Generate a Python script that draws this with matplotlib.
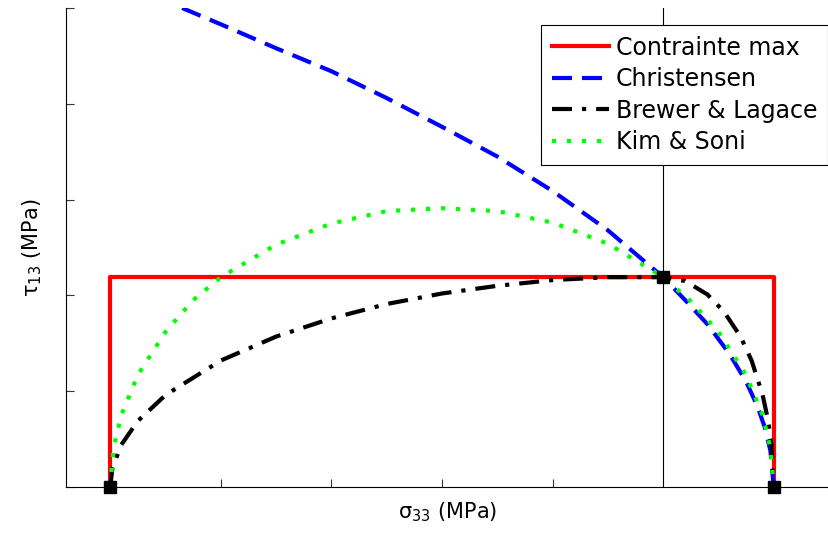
import matplotlib
matplotlib.use('Agg')
import matplotlib.pyplot as plt

# Contrainte max (rectangle)
s_max = [-5.0, -5.0, 1.0, 1.0]
t_max = [0.0, 2.19, 2.19, 0.0]

# Christensen
s_chr = [-4.35, -4.0, -3.5, -3.0, -2.5, -2.0, -1.5, -1.0, -0.5, 0.0,
         0.2, 0.4, 0.6, 0.75, 0.85, 0.92, 0.97, 1.0]
t_chr = [5.0, 4.83, 4.58, 4.34, 4.06, 3.76, 3.45, 3.09, 2.68, 2.19,
         1.95, 1.70, 1.39, 1.10, 0.85, 0.62, 0.38, 0.0]

# Brewer & Lagace
s_bl = [-5.0, -4.98, -4.9, -4.75, -4.5, -4.0, -3.5, -3.0, -2.5, -2.0, -1.5, -1.0, -0.5, 0.0,
        0.2, 0.4, 0.55, 0.7, 0.8, 0.9, 0.95, 0.98, 1.0]
t_bl = [0.0, 0.20, 0.44, 0.69, 0.96, 1.32, 1.57, 1.76, 1.91, 2.02, 2.10, 2.16, 2.19, 2.19,
        2.15, 2.01, 1.83, 1.57, 1.32, 0.96, 0.69, 0.44, 0.0]

# Kim & Soni
s_ks = [-5.0, -4.97, -4.9, -4.75, -4.5, -4.25, -4.0, -3.5, -3.0, -2.5, -2.0, -1.5, -1.0, -0.5, 0.0,
        0.25, 0.5, 0.75, 0.9, 0.97, 1.0]
t_ks = [0.0, 0.41, 0.75, 1.17, 1.62, 1.95, 2.19, 2.53, 2.75, 2.88, 2.91, 2.88, 2.76, 2.54, 2.19,
        1.94, 1.62, 1.17, 0.75, 0.41, 0.0]

# characteristic points
s_pts = [-5.0, 0.0, 1.0]
t_pts = [0.0, 2.19, 0.0]

fig = plt.figure(figsize=(8.29, 5.33), dpi=100)
ax = fig.add_axes([66/829, 46/533, 763/829, 479/533])

ax.axvline(0, color='black', lw=0.8, zorder=1)
ax.plot(s_max, t_max, color='red', lw=3, solid_joinstyle='round', label='Contrainte max')
ax.plot(s_chr, t_chr, color='blue', lw=3, dashes=(4.8, 2.4), dash_capstyle='butt', label='Christensen')
ax.plot(s_bl, t_bl, color='black', lw=3, dashes=(4.8, 2.4, 1, 2.4), dash_capstyle='butt',
        label='Brewer & Lagace')
ax.plot(s_ks, t_ks, color='#00ff00', lw=3, dashes=(1, 2.6), dash_capstyle='butt', label='Kim & Soni')
ax.plot(s_pts, t_pts, 's', color='black', ms=8, zorder=5, clip_on=False)

ax.set_xlim(-5.4, 1.5)
ax.set_ylim(0, 5)
ax.set_xticks([-4, -3, -2, -1])
ax.set_yticks([0, 1, 2, 3, 4, 5])
ax.set_xticklabels([])
ax.set_yticklabels([])
ax.tick_params(direction='in', length=5.5, width=0.8, color='#333333')
ax.spines['top'].set_visible(False)
ax.spines['right'].set_visible(False)

ax.set_xlabel('σ$_{33}$ (MPa)', fontsize=15, labelpad=6)
ax.set_ylabel('τ$_{13}$ (MPa)', fontsize=15, labelpad=12)

leg = fig.legend(loc='upper right', bbox_to_anchor=(828/829, 1 - 25/533), fontsize=17,
                 fancybox=False, framealpha=1, edgecolor='black', handlelength=2.4,
                 labelspacing=0.32, borderpad=0.45, handletextpad=0.3, borderaxespad=0)
leg.get_frame().set_linewidth(0.8)

fig.savefig('out.png', dpi=100)
plt.close(fig)
